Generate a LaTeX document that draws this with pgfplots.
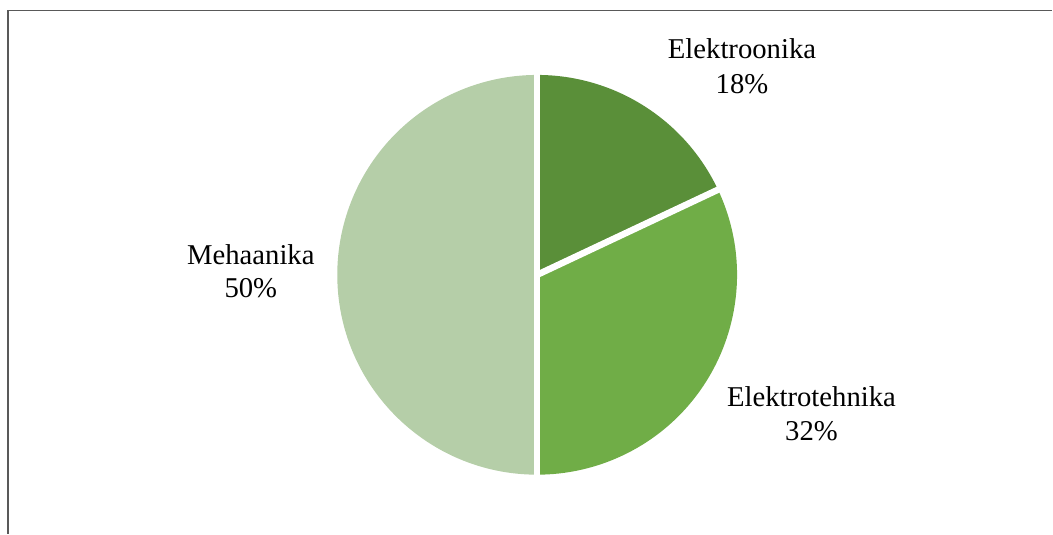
\documentclass[border=0pt]{standalone}
\usepackage{pgfplots}
\pgfplotsset{compat=1.18}
\usepackage{fontspec}
\setmainfont{Liberation Serif}
\definecolor{cElo}{RGB}{90,143,57}
\definecolor{cEte}{RGB}{112,173,71}
\definecolor{cMeh}{RGB}{181,206,168}
\definecolor{frame}{RGB}{89,89,89}
% shares in percent
\def\vElo{18}
\def\vEte{32}
\def\vMeh{50}
\pgfmathsetmacro{\aA}{90}
\pgfmathsetmacro{\aB}{\aA-3.6*\vElo}
\pgfmathsetmacro{\aC}{\aB-3.6*\vEte}
\pgfmathsetmacro{\aD}{\aC-3.6*\vMeh}
\begin{document}
\begin{tikzpicture}
\begin{axis}[
  width=1053pt, height=534pt, scale only axis,
  xmin=0, xmax=1053, ymin=0, ymax=534,
  hide axis, clip=false,
]
\path (axis cs:0,0) rectangle (axis cs:1053,534);
\draw[frame, line width=1.4pt] (axis cs:8,0) -- (axis cs:8,523.5) -- (axis cs:1053,523.5);
% slices
\fill[cElo] (axis cs:537.5,259) -- ++(\aA:200) arc[start angle=\aA, end angle=\aB, radius=200] -- cycle;
\fill[cEte] (axis cs:537.5,259) -- ++(\aB:200) arc[start angle=\aB, end angle=\aC, radius=200] -- cycle;
\fill[cMeh] (axis cs:537.5,259) -- ++(\aC:200) arc[start angle=\aC, end angle=\aD, radius=200] -- cycle;
% white separators
\draw[white, line width=6.5pt] (axis cs:537.5,259) -- ++(\aA:205);
\draw[white, line width=6.5pt] (axis cs:537.5,259) -- ++(\aB:205);
\draw[white, line width=6.5pt] (axis cs:537.5,259) -- ++(\aC:205);
% labels
\begin{scope}[every node/.style={font=\fontsize{28.7}{34}\selectfont, anchor=base, inner sep=0pt}]
\node at (axis cs:742.5,475.7) {Elektroonika};
\node at (axis cs:742.5,440.7) {\vElo\%};
\node at (axis cs:812,127.3) {Elektrotehnika};
\node at (axis cs:812,93) {\vEte\%};
\node at (axis cs:251,269.7) {Mehaanika};
\node at (axis cs:251,236) {\vMeh\%};
\end{scope}
\end{axis}
\end{tikzpicture}
\end{document}
